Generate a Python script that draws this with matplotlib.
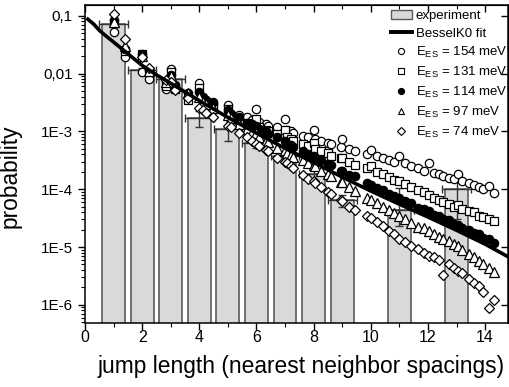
import matplotlib
matplotlib.use("Agg")
import matplotlib.pyplot as plt
from matplotlib.lines import Line2D
from matplotlib.patches import Patch
from matplotlib.ticker import MultipleLocator, LogLocator, NullFormatter

plt.rcParams['font.family'] = ['Liberation Sans', 'DejaVu Sans']

# histogram of measured jump lengths
bar_x = [1, 2, 3, 4, 5, 6, 7, 8, 9, 11, 13]
bar_p = [0.071, 0.0115, 0.0079, 0.0017, 0.00112, 0.00064, 0.00038, 0.00018,
         0.000065, 0.000043, 0.00010]
bar_err_lo = [0.006, 0.0012, 0.0008, 0.00053, 0.00043, 0.00012, 0.00008,
              0.00004, 0.000015, 0.00002, 0.00007]
bar_err_hi = [0.006, 0.0012, 0.0008, 0.00053, 0.00043, 0.00012, 0.00008,
              0.00004, 0.000015, 0.00006, 0.00007]

# BesselK0 fit curve
fit_x = [0.1, 0.2, 0.3, 0.5, 0.75, 1, 1.5, 2, 2.5, 3, 4, 5, 6, 7, 8, 9, 10,
         11, 12, 13, 14, 14.8]
fit_p = [0.087, 0.079, 0.072, 0.056, 0.044, 0.035, 0.022, 0.0138, 0.0095,
         0.0068, 0.0034, 0.00174, 0.00093, 0.00051, 0.00029, 0.000162,
         0.000093, 0.000055, 0.000033, 0.0000195, 0.0000112, 0.0000068]

# simulated jump lengths
sim_x = [1.00, 1.41, 2.00, 2.24, 2.83, 3.00, 3.16, 3.61, 4.00, 4.12,
         4.24, 4.47, 5.00, 5.10, 5.39, 5.66, 5.83, 6.00, 6.08, 6.32,
         6.40, 6.71, 7.00, 7.07, 7.21, 7.28, 7.62, 7.81, 8.00, 8.06,
         8.25, 8.49, 8.60, 8.94, 9.00, 9.22, 9.43, 9.85, 10.00, 10.20,
         10.44, 10.63, 10.82, 11.00, 11.18, 11.40, 11.66, 11.85, 12.04, 12.21,
         12.37, 12.53, 12.73, 12.90, 13.04, 13.20, 13.42, 13.60, 13.78, 13.93,
         14.14, 14.32]

p_154 = [0.052, 0.019, 0.0105, 0.0081, 0.0054, 0.012, 0.0056, 0.0040, 0.0068, 0.0035,
         0.0032, 0.0030, 0.0029, 0.0020, 0.0019, 0.00174, 0.00158, 0.00245, 0.00145, 0.00135,
         0.00126, 0.00117, 0.00162, 0.00105, 0.00100, 0.00095, 0.00083, 0.00079, 0.00107, 0.00074,
         0.00069, 0.00063, 0.00060, 0.00054, 0.00074, 0.00050, 0.00045, 0.00041, 0.00048, 0.00037,
         0.00035, 0.00032, 0.00030, 0.00037, 0.00028, 0.00025, 0.00023, 0.00021, 0.00028, 0.00019,
         0.000182, 0.00017, 0.000158, 0.000148, 0.000182, 0.000138, 0.000126, 0.000117, 0.000110, 0.000102,
         0.000115, 0.000087]

p_131 = [0.074, 0.025, 0.022, 0.0105, 0.0060, 0.0107, 0.0054, 0.0035, 0.0056, 0.0030,
         0.0028, 0.0026, 0.0024, 0.00174, 0.00158, 0.00141, 0.00132, 0.00166, 0.00120, 0.00107,
         0.00102, 0.00091, 0.00107, 0.00079, 0.00074, 0.00069, 0.00060, 0.00055, 0.00063, 0.00050,
         0.00046, 0.00042, 0.00038, 0.00034, 0.00035, 0.00030, 0.00026, 0.00023, 0.00025, 0.00020,
         0.000182, 0.000162, 0.000145, 0.000141, 0.000123, 0.000110, 0.000095, 0.000089, 0.000079, 0.000071,
         0.000066, 0.000060, 0.000055, 0.000050, 0.000054, 0.000046, 0.000042, 0.000040, 0.000035, 0.000033,
         0.000030, 0.000028]

p_114 = [0.085, 0.027, 0.022, 0.0117, 0.0075, 0.0095, 0.0063, 0.0046, 0.0047, 0.0040,
         0.0035, 0.0032, 0.0023, 0.0020, 0.00174, 0.00141, 0.00135, 0.00126, 0.00112, 0.00100,
         0.00091, 0.00079, 0.00068, 0.00060, 0.00059, 0.00054, 0.00046, 0.00040, 0.00037, 0.00034,
         0.00032, 0.00027, 0.00026, 0.00021, 0.00021, 0.000178, 0.000166, 0.000126, 0.000120, 0.000105,
         0.000095, 0.000081, 0.000076, 0.000071, 0.000062, 0.000058, 0.000048, 0.000045, 0.000042, 0.000036,
         0.000035, 0.000031, 0.000029, 0.000025, 0.0000245, 0.0000214, 0.0000200, 0.0000174, 0.0000166, 0.0000145,
         0.0000135, 0.0000117]

p_97 = [0.079, 0.030, 0.020, 0.0112, 0.0071, 0.0089, 0.0060, 0.0046, 0.0040, 0.0032,
        0.0030, 0.0025, 0.0019, 0.00170, 0.00135, 0.00110, 0.00098, 0.00093, 0.00079, 0.00068,
        0.00065, 0.00052, 0.00047, 0.00042, 0.00039, 0.00036, 0.00032, 0.00028, 0.00026, 0.00025,
        0.00021, 0.000182, 0.000166, 0.000132, 0.000132, 0.000110, 0.000093, 0.000071, 0.000066, 0.000058,
        0.000050, 0.000044, 0.000038, 0.000035, 0.000030, 0.000026, 0.000022, 0.000021, 0.000019, 0.0000166,
        0.0000151, 0.0000138, 0.0000126, 0.0000112, 0.0000105, 0.0000089, 0.0000076, 0.0000066, 0.0000058, 0.0000050,
        0.0000044, 0.0000037]

p_74 = [0.105, 0.039, 0.019, 0.0123, 0.0076, 0.0072, 0.0051, 0.0038, 0.0025, 0.0023,
        0.0021, 0.00174, 0.00126, 0.00117, 0.00095, 0.00079, 0.00069, 0.00060, 0.00056, 0.00048,
        0.00045, 0.00035, 0.00030, 0.00028, 0.00025, 0.00023, 0.000174, 0.000151, 0.000138, 0.000126,
        0.000110, 0.000091, 0.000083, 0.000066, 0.000063, 0.000050, 0.000044, 0.000035, 0.000032, 0.0000275,
        0.000023, 0.000019, 0.0000166, 0.0000138, 0.0000120, 0.0000105, 0.0000091, 0.0000079, 0.0000071, 0.0000066,
        0.0000060, 0.0000033, 0.0000050, 0.0000044, 0.0000038, 0.0000035, 0.0000028, 0.0000024, 0.0000021, 0.00000166,
        0.00000089, 0.0000012]

series = [
    (p_154, 'o', 'white', 6.0, '154'),
    (p_131, 's', 'white', 5.3, '131'),
    (p_114, 'o', 'black', 6.0, '114'),
    (p_97, '^', 'white', 6.6, '97'),
    (p_74, 'D', 'white', 5.3, '74'),
]

fig = plt.figure(figsize=(5.09, 3.87), dpi=100)
ax = fig.add_axes([0.167, 0.166, 0.831, 0.821])
ax.set_yscale('log')

ax.bar(bar_x, bar_p, width=0.8, color='#d9d9d9', edgecolor='#5a5a5a',
       linewidth=1.2, zorder=1)
ax.errorbar(bar_x, bar_p, xerr=0.5, yerr=[bar_err_lo, bar_err_hi], fmt='none',
            ecolor='#333333', elinewidth=1, capsize=3, capthick=1, zorder=2)

handles = [Patch(facecolor='#d9d9d9', edgecolor='#5a5a5a', linewidth=1.0,
                 label='experiment'),
           Line2D([], [], color='black', lw=2.8, label='BesselK0 fit')]
for vals, mk, fc, ms, e in series:
    ax.plot(sim_x, vals, linestyle='none', marker=mk, markersize=ms,
            markerfacecolor=fc, markeredgecolor='black', markeredgewidth=0.9,
            zorder=3)
    handles.append(Line2D([], [], linestyle='none', marker=mk, markersize=ms - 1.6,
                          markerfacecolor=fc, markeredgecolor='black',
                          markeredgewidth=0.8,
                          label=r'$\mathregular{E_{ES}}$ = ' + e + ' meV'))

ax.plot(fit_x, fit_p, color='black', lw=2.6, zorder=5)

ax.set_xlim(0, 14.8)
ax.set_ylim(4.9e-7, 0.153)

ax.xaxis.set_major_locator(MultipleLocator(2))
ax.xaxis.set_minor_locator(MultipleLocator(1))
ax.set_yticks([1e-6, 1e-5, 1e-4, 1e-3, 1e-2, 1e-1])
ax.set_yticklabels(['1E-6', '1E-5', '1E-4', '1E-3', '0,01', '0,1'])
ax.yaxis.set_minor_locator(LogLocator(base=10, subs=range(2, 10), numticks=20))
ax.yaxis.set_minor_formatter(NullFormatter())

ax.tick_params(which='major', direction='out', length=5, width=1.0)
ax.tick_params(which='minor', direction='out', length=3, width=0.8)
ax.tick_params(axis='x', labelsize=11.5, pad=0)
ax.tick_params(axis='y', labelsize=11, pad=4)
for s in ax.spines.values():
    s.set_linewidth(1.1)

top = ax.secondary_xaxis('top')
top.xaxis.set_major_locator(MultipleLocator(2))
top.xaxis.set_minor_locator(MultipleLocator(1))
top.tick_params(which='major', direction='in', length=5, width=1.0, labeltop=False)
top.tick_params(which='minor', direction='in', length=3, width=0.8)
right = ax.secondary_yaxis('right')
right.set_yticks([1e-6, 1e-5, 1e-4, 1e-3, 1e-2, 1e-1])
right.yaxis.set_minor_locator(LogLocator(base=10, subs=[], numticks=20))
right.tick_params(which='major', direction='in', length=5, width=1.0, labelright=False)

ax.set_xlabel('jump length (nearest neighbor spacings)', fontsize=16.4)
ax.xaxis.set_label_coords(0.51, -0.1)
ax.set_ylabel('probability', fontsize=16.4)
ax.yaxis.set_label_coords(-0.15, 0.46)

ax.legend(handles=handles, loc='upper right', bbox_to_anchor=(1.015, 1.005),
          frameon=False, fontsize=9.5, handlelength=1.6, handletextpad=0.3,
          labelspacing=0.38, borderaxespad=0.1)

fig.savefig('out.png', dpi=100)
